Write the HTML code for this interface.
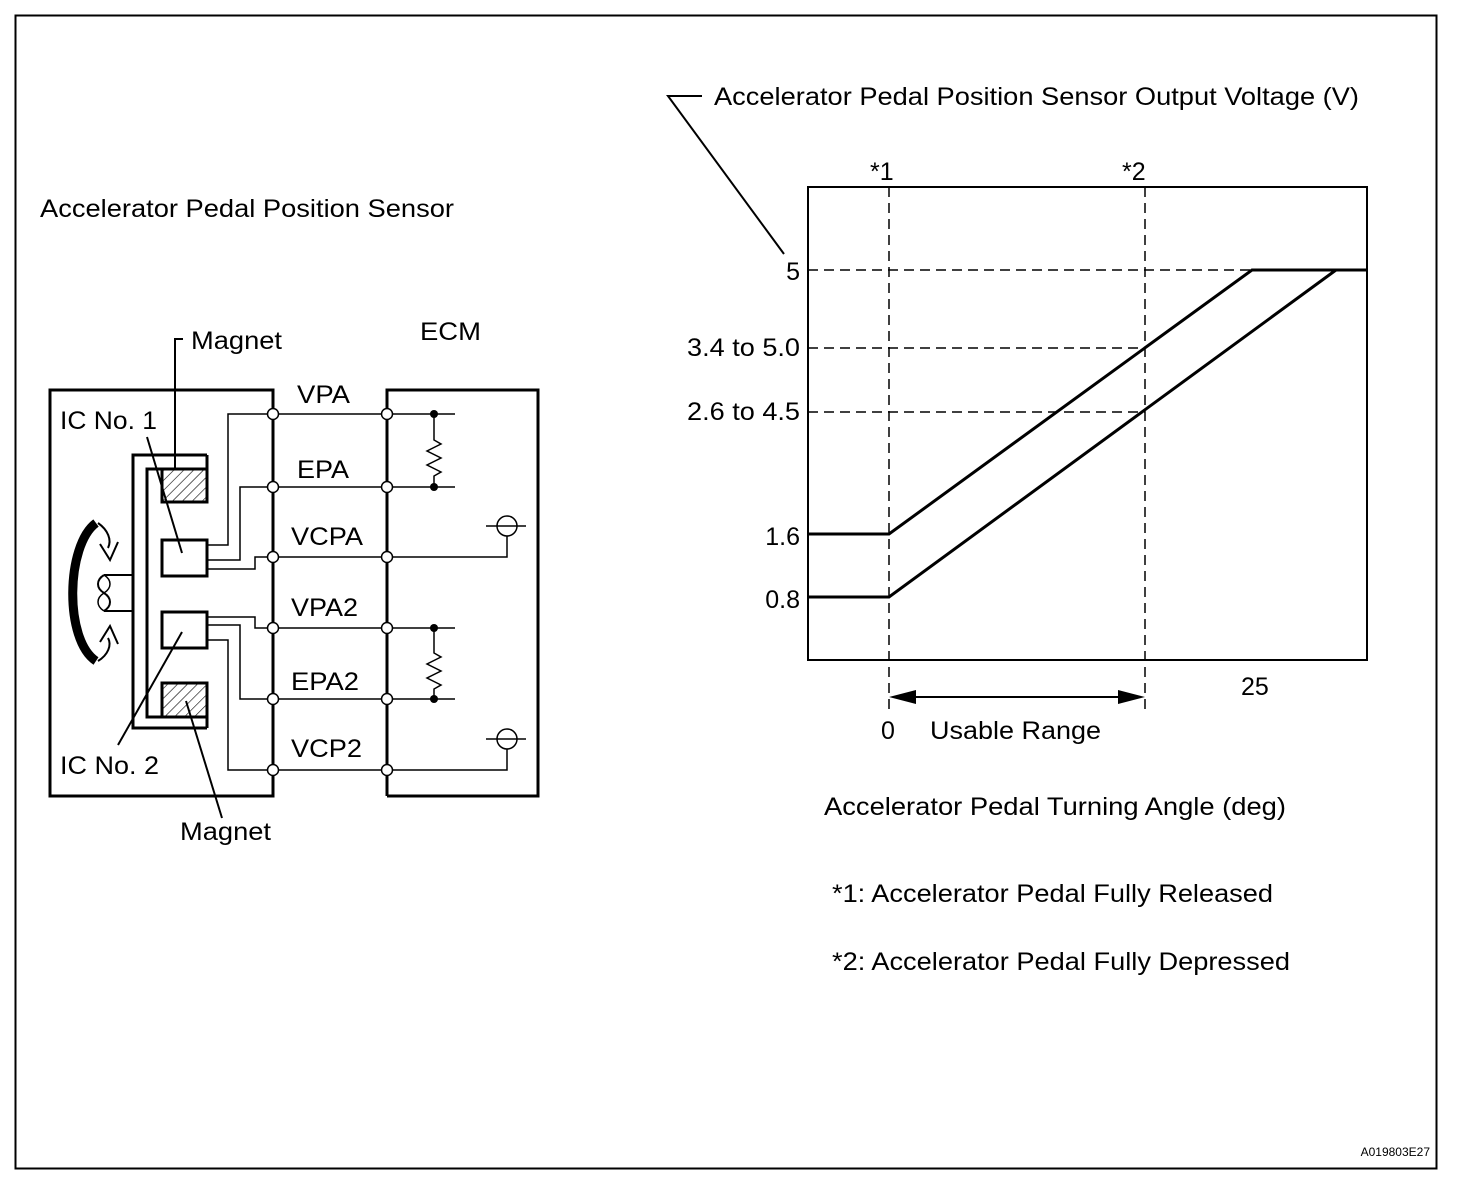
<!DOCTYPE html>
<html><head><style>
html,body{margin:0;padding:0;background:#fff}
svg{display:block}
text{font-family:"Liberation Sans",Arial,sans-serif;fill:#000}
</style></head><body>
<svg width="1472" height="1182" viewBox="0 0 1472 1182" xmlns="http://www.w3.org/2000/svg">
<defs>
<pattern id="h" width="7" height="7" patternUnits="userSpaceOnUse" patternTransform="rotate(45)">
<line x1="0" y1="0" x2="0" y2="7" stroke="#000" stroke-width="1.2"/></pattern>
</defs>
<rect x="15.5" y="15.5" width="1421" height="1153" fill="none" stroke="#000" stroke-width="2"/>

<g font-size="25" lengthAdjust="spacingAndGlyphs">
<text x="40" y="217" textLength="414" lengthAdjust="spacingAndGlyphs">Accelerator Pedal Position Sensor</text>
<text x="191" y="349" textLength="91" lengthAdjust="spacingAndGlyphs">Magnet</text>
<text x="420" y="340" textLength="61" lengthAdjust="spacingAndGlyphs">ECM</text>
<text x="60" y="429" textLength="97" lengthAdjust="spacingAndGlyphs">IC No. 1</text>
<text x="60" y="774" textLength="99" lengthAdjust="spacingAndGlyphs">IC No. 2</text>
<text x="180" y="840" textLength="91" lengthAdjust="spacingAndGlyphs">Magnet</text>
<text x="297" y="403" textLength="53" lengthAdjust="spacingAndGlyphs">VPA</text>
<text x="297" y="478" textLength="52" lengthAdjust="spacingAndGlyphs">EPA</text>
<text x="291" y="545" textLength="72" lengthAdjust="spacingAndGlyphs">VCPA</text>
<text x="291" y="616" textLength="67" lengthAdjust="spacingAndGlyphs">VPA2</text>
<text x="291" y="690" textLength="68" lengthAdjust="spacingAndGlyphs">EPA2</text>
<text x="291" y="757" textLength="71" lengthAdjust="spacingAndGlyphs">VCP2</text>
</g>

<g fill="none" stroke="#000">
<rect x="50" y="390" width="223" height="406" stroke-width="3"/>
<polyline points="387,796 387,390 538,390 538,796 387,796" stroke-width="3"/>
<polyline points="183,339 175,339 175,469" stroke-width="2"/>
<polyline points="207,455 133,455 133,728 207,728" stroke-width="3"/>
<polyline points="207,469 147,469 147,717 207,717" stroke-width="3"/>
<line x1="207" y1="455" x2="207" y2="469" stroke-width="3"/>
<line x1="207" y1="717" x2="207" y2="728" stroke-width="3"/>
<rect x="162" y="469" width="45" height="33" fill="url(#h)" stroke-width="3"/>
<rect x="162" y="683" width="45" height="34" fill="url(#h)" stroke-width="3"/>
<rect x="162" y="540" width="45" height="36" stroke-width="3"/>
<rect x="162" y="612" width="45" height="36" stroke-width="3"/>
<line x1="147" y1="437" x2="182" y2="553" stroke-width="2"/>
<line x1="182" y1="632" x2="118" y2="745" stroke-width="2"/>
<line x1="186" y1="701" x2="222" y2="818" stroke-width="2"/>
<polyline points="133,575 104,575" stroke-width="2"/>
<polyline points="133,611 104,611" stroke-width="2"/>
<path d="M104,575 C96,580 96,588 104,593 C112,598 112,606 104,611" stroke-width="2"/>
<path d="M104,575 C112,580 112,588 104,593 C96,598 96,606 104,611" stroke-width="1.5"/>
<path d="M96,523 C66,545 64,640 96,661" stroke-width="9"/>
<path d="M98,523 C108,530 112,540 108,548" stroke-width="2"/>
<path d="M100,544 L110,560 L118,542" stroke-width="2"/>
<path d="M98,661 C108,655 112,645 108,638" stroke-width="2"/>
<path d="M100,642 L110,626 L118,644" stroke-width="2"/>
<g stroke-width="1.5">
<polyline points="207,545 228,545 228,414 455,414"/>
<polyline points="207,560 240,560 240,487 455,487"/>
<polyline points="207,569 255,569 255,557 507,557 507,536"/>
<polyline points="207,617 255,617 255,628 455,628"/>
<polyline points="207,625 240,625 240,699 455,699"/>
<polyline points="207,640 228,640 228,770 507,770 507,749"/>
</g>
<line x1="273" y1="390" x2="273" y2="796" stroke-width="3"/>
<line x1="387" y1="390" x2="387" y2="796" stroke-width="3"/>
<polyline points="434,414 434,440 441,444 427,451 441,458 427,465 441,472 434,476 434,487" stroke-width="1.5"/>
<polyline points="434,628 434,653 441,657 427,664 441,671 427,678 441,685 434,689 434,699" stroke-width="1.5"/>
<circle cx="507" cy="526" r="10" stroke-width="1.5" fill="#fff"/>
<line x1="486" y1="526" x2="526" y2="526" stroke-width="1.5"/>
<circle cx="507" cy="739" r="10" stroke-width="1.5" fill="#fff"/>
<line x1="486" y1="739" x2="526" y2="739" stroke-width="1.5"/>
</g>
<g fill="#000"><circle cx="434" cy="414" r="4"/><circle cx="434" cy="487" r="4"/><circle cx="434" cy="628" r="4"/><circle cx="434" cy="699" r="4"/></g>
<g fill="#fff" stroke="#000" stroke-width="1.5">
<circle cx="273" cy="414" r="5.5"/><circle cx="273" cy="487" r="5.5"/><circle cx="273" cy="557" r="5.5"/><circle cx="273" cy="628" r="5.5"/><circle cx="273" cy="699" r="5.5"/><circle cx="273" cy="770" r="5.5"/>
<circle cx="387" cy="414" r="5.5"/><circle cx="387" cy="487" r="5.5"/><circle cx="387" cy="557" r="5.5"/><circle cx="387" cy="628" r="5.5"/><circle cx="387" cy="699" r="5.5"/><circle cx="387" cy="770" r="5.5"/>
</g>

<g fill="none" stroke="#000">
<polyline points="702,96 668,96 784,254" stroke-width="2"/>
<rect x="808" y="187" width="559" height="473" stroke-width="2"/>
<g stroke-dasharray="10,6" stroke-width="1.5">
<line x1="889" y1="187" x2="889" y2="712"/>
<line x1="1145" y1="187" x2="1145" y2="712"/>
<line x1="808" y1="270" x2="1367" y2="270"/>
<line x1="808" y1="348" x2="1145" y2="348"/>
<line x1="808" y1="412" x2="1145" y2="412"/>
</g>
<polyline points="808,534 889,534 1252,270 1367,270" stroke-width="3"/>
<polyline points="808,597 889,597 1336,270" stroke-width="3"/>
<line x1="905" y1="697" x2="1128" y2="697" stroke-width="2"/>
</g>
<polygon points="889,697 916,690 916,704" fill="#000"/>
<polygon points="1145,697 1118,690 1118,704" fill="#000"/>
<g font-size="25">
<text x="714" y="105" textLength="645" lengthAdjust="spacingAndGlyphs">Accelerator Pedal Position Sensor Output Voltage (V)</text>
<text x="870" y="180">*1</text>
<text x="1122" y="180">*2</text>
<text x="800" y="280" text-anchor="end">5</text>
<text x="687" y="356" textLength="113" lengthAdjust="spacingAndGlyphs">3.4 to 5.0</text>
<text x="687" y="420" textLength="113" lengthAdjust="spacingAndGlyphs">2.6 to 4.5</text>
<text x="800" y="545" text-anchor="end">1.6</text>
<text x="800" y="608" text-anchor="end">0.8</text>
<text x="1241" y="695">25</text>
<text x="881" y="739">0</text>
<text x="930" y="739" textLength="171" lengthAdjust="spacingAndGlyphs">Usable Range</text>
<text x="824" y="815" textLength="462" lengthAdjust="spacingAndGlyphs">Accelerator Pedal Turning Angle (deg)</text>
<text x="832" y="902" textLength="441" lengthAdjust="spacingAndGlyphs">*1: Accelerator Pedal Fully Released</text>
<text x="832" y="970" textLength="458" lengthAdjust="spacingAndGlyphs">*2: Accelerator Pedal Fully Depressed</text>
</g>
<text x="1430" y="1156" font-size="12" text-anchor="end">A019803E27</text>
</svg>
</body></html>
